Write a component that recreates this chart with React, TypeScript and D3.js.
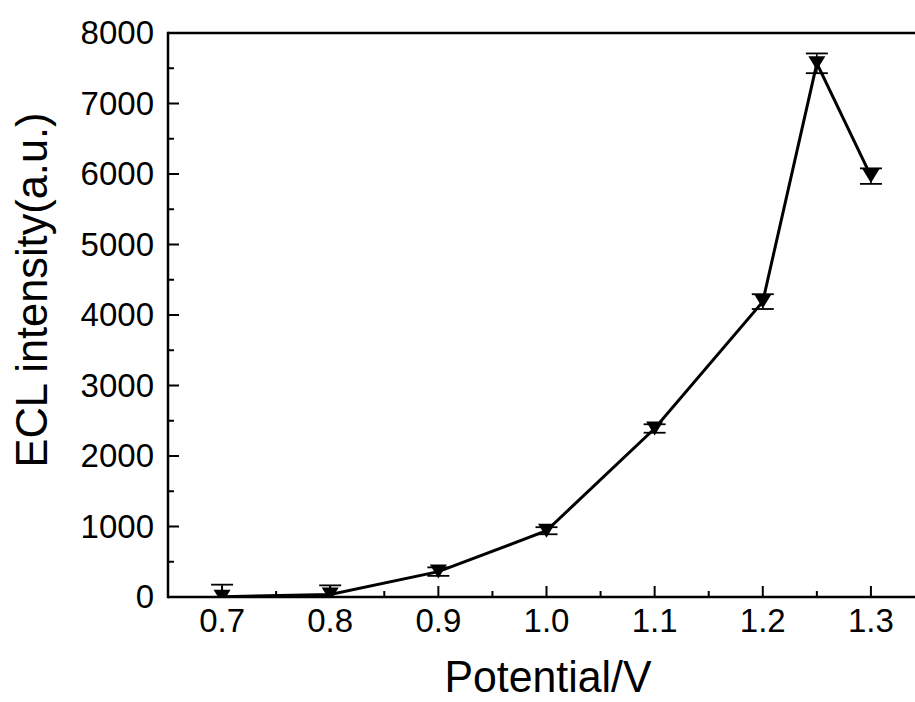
import React from 'react';
import * as d3 from 'd3';

// potential (V) vs ECL intensity, with error bars
const potentials = [0.7, 0.8, 0.9, 1.0, 1.1, 1.2, 1.25, 1.3];
const intensity = [5, 35, 360, 940, 2390, 4190, 7570, 5970];
const errors = [170, 130, 60, 50, 60, 105, 140, 110];

const xTicks = [0.7, 0.8, 0.9, 1.0, 1.1, 1.2, 1.3];
const xMinor = [0.75, 0.85, 0.95, 1.05, 1.15, 1.25];
const yTicks = [0, 1000, 2000, 3000, 4000, 5000, 6000, 7000, 8000];
const yMinor = [500, 1500, 2500, 3500, 4500, 5500, 6500, 7500];

const W = 915;
const H = 702;
const left = 168;
const right = 925;
const top = 33;
const bottom = 597;
const font = "'Liberation Sans', Arial, sans-serif";

export default function App() {
  const x = d3.scaleLinear().domain([0.65, 1.35]).range([left, right]);
  const y = d3.scaleLinear().domain([0, 8000]).range([bottom, top]);

  const pts = potentials.map((p, i) => ({ p, v: intensity[i], e: errors[i] }));
  const line = d3
    .line<{ p: number; v: number }>()
    .x((d) => x(d.p))
    .y((d) => y(d.v));

  // down triangle marker, centred on the point
  const tri = 'M-8.5,-7L8.5,-7L0,7Z';
  const cap = 11;

  return (
    <svg
      width={W}
      height={H}
      style={{ position: 'absolute', left: 0, top: 0, background: '#fff' }}
    >
      <defs>
        <clipPath id="plot">
          <rect x={left} y={top} width={right - left} height={bottom - top} />
        </clipPath>
      </defs>

      <g clipPath="url(#plot)">
        {pts.map((d, i) => (
          <g key={'e' + i} stroke="#000">
            <line x1={x(d.p)} x2={x(d.p)} y1={y(d.v - d.e)} y2={y(d.v + d.e)} strokeWidth={1.5} />
            <line x1={x(d.p) - cap} x2={x(d.p) + cap} y1={y(d.v + d.e)} y2={y(d.v + d.e)} strokeWidth={1.8} />
            <line x1={x(d.p) - cap} x2={x(d.p) + cap} y1={y(d.v - d.e)} y2={y(d.v - d.e)} strokeWidth={1.8} />
          </g>
        ))}
        <path d={line(pts) || ''} fill="none" stroke="#000" strokeWidth={3} />
        {pts.map((d, i) => (
          <path key={'m' + i} d={tri} transform={`translate(${x(d.p)},${y(d.v)})`} fill="#000" />
        ))}
      </g>

      {/* frame */}
      <g stroke="#000" strokeWidth={2.5} fill="none">
        <line x1={left} x2={right} y1={bottom} y2={bottom} />
        <line x1={left} x2={right} y1={top} y2={top} />
        <line x1={left} x2={left} y1={top - 1.25} y2={bottom + 1.25} />
      </g>

      {/* ticks point inward */}
      <g stroke="#000" strokeWidth={2}>
        {xTicks.map((t) => (
          <line key={'xt' + t} x1={x(t)} x2={x(t)} y1={bottom} y2={bottom - 11} />
        ))}
        {xMinor.map((t) => (
          <line key={'xm' + t} x1={x(t)} x2={x(t)} y1={bottom} y2={bottom - 6} />
        ))}
        {yTicks.map((t) => (
          <line key={'yt' + t} x1={left} x2={left + 11} y1={y(t)} y2={y(t)} />
        ))}
        {yMinor.map((t) => (
          <line key={'ym' + t} x1={left} x2={left + 6} y1={y(t)} y2={y(t)} />
        ))}
      </g>

      <g fontFamily={font} fontSize={33} fill="#000">
        {xTicks.map((t) => (
          <text key={'xl' + t} x={x(t)} y={bottom + 35} textAnchor="middle">
            {t.toFixed(1)}
          </text>
        ))}
        {yTicks.map((t) => (
          <text key={'yl' + t} x={left - 14} y={y(t) + 11} textAnchor="end">
            {t}
          </text>
        ))}
      </g>

      <text
        x={548}
        y={692}
        textAnchor="middle"
        fontFamily={font}
        fontSize={44}
        textLength={207}
        lengthAdjust="spacingAndGlyphs"
      >
        Potential/V
      </text>
      <text
        transform="translate(47,290) rotate(-90)"
        textAnchor="middle"
        fontFamily={font}
        fontSize={44}
        textLength={355}
        lengthAdjust="spacingAndGlyphs"
      >
        ECL intensity(a.u.)
      </text>
    </svg>
  );
}
